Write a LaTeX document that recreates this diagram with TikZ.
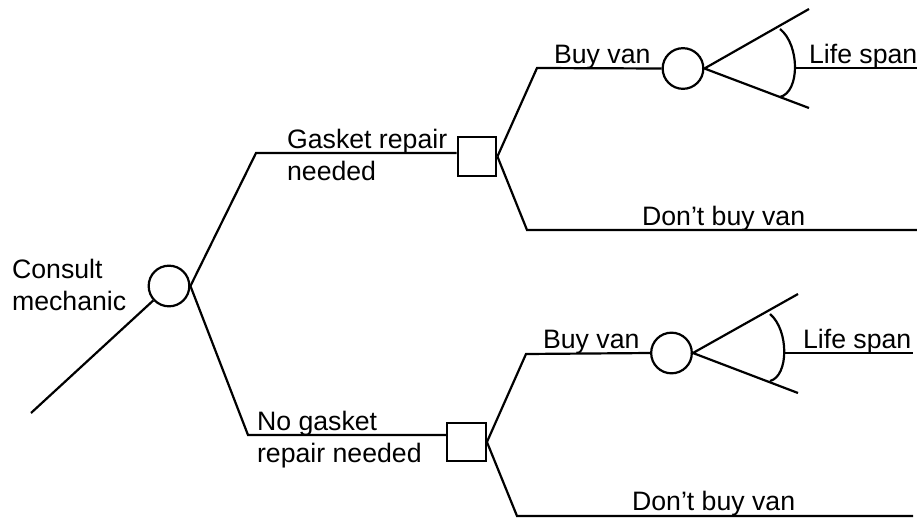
\documentclass[tikz,border=0pt]{standalone}
\usepackage{fontspec}
\setmainfont{Liberation Sans}
\begin{document}
\begin{tikzpicture}[x=0.75pt,y=-0.75pt,
  line width=1.65pt, line join=miter,
  chance/.style={draw,circle,inner sep=0pt,minimum size=30.5pt},
  decision/.style={draw,rectangle,inner sep=0pt,minimum size=29pt},
  lbl/.style={anchor=base west,inner sep=0pt,font=\fontsize{20pt}{24pt}\selectfont}]
\useasboundingbox (0,0) rectangle (917,518);
% nodes
\node[chance] (c0) at (169,286) {};
\node[decision] (sq1) at (477,156.5) {};
\node[decision] (sq2) at (466.5,442) {};
\node[chance] (cc1) at (683,68.5) {};
\node[chance] (cc2) at (671.5,353) {};
% coordinates
\coordinate (s0) at (31,413);
\coordinate (a1) at (256,153);
\coordinate (a2) at (248,435);
\coordinate (b1) at (537,68);
\coordinate (d1) at (527,230);
\coordinate (d1e) at (917,230);
\coordinate (b2) at (526,354);
\coordinate (d2) at (517,516);
\coordinate (d2e) at (913,516);
\coordinate (f1u) at (809,9);
\coordinate (f1l) at (809,108);
\coordinate (f2u) at (798,294);
\coordinate (f2l) at (798,393);
\coordinate (m1) at (796,68);
\coordinate (m1e) at (917,68);
\coordinate (m2) at (785,353);
\coordinate (m2e) at (913,353);
% connectors
\draw (s0) -- (c0);
\draw (c0.east) -- (a1) -- (a1 -| sq1.west);
\draw (c0.east) -- (a2) -- (a2 -| sq2.west);
\draw (sq1.east) -- (b1) -- (cc1.west);
\draw (sq1.east) -- (d1) -- (d1e);
\draw (sq2.east) -- (b2) -- (cc2.west);
\draw (sq2.east) -- (d2) -- (d2e);
\draw (f1u) -- (cc1.east) -- (f1l);
\draw (f2u) -- (cc2.east) -- (f2l);
\draw (780,29) .. controls (800,45) and (800,92) .. (780,97);
\draw (770,314) .. controls (789,330) and (789,376) .. (770,381);
\draw (m1) -- (m1e);
\draw (m2) -- (m2e);
% labels
\node[lbl] (t1) at (11,278) {Consult};
\node[lbl] (t2) at (11,310) {mechanic};
\node[lbl] (t3) at (286,148) {Gasket repair};
\node[lbl] (t4) at (286,180) {needed};
\node[lbl] (t5) at (256,430) {No gasket};
\node[lbl] (t6) at (256,462) {repair needed};
\node[lbl] (t7) at (553,63) {Buy van};
\node[lbl] (t8) at (808,63) {Life span};
\node[lbl] (t9) at (641,225) {Don’t buy van};
\node[lbl] (t10) at (542,348) {Buy van};
\node[lbl] (t11) at (802,348) {Life span};
\node[lbl] (t12) at (631,510) {Don’t buy van};
\end{tikzpicture}
\end{document}
